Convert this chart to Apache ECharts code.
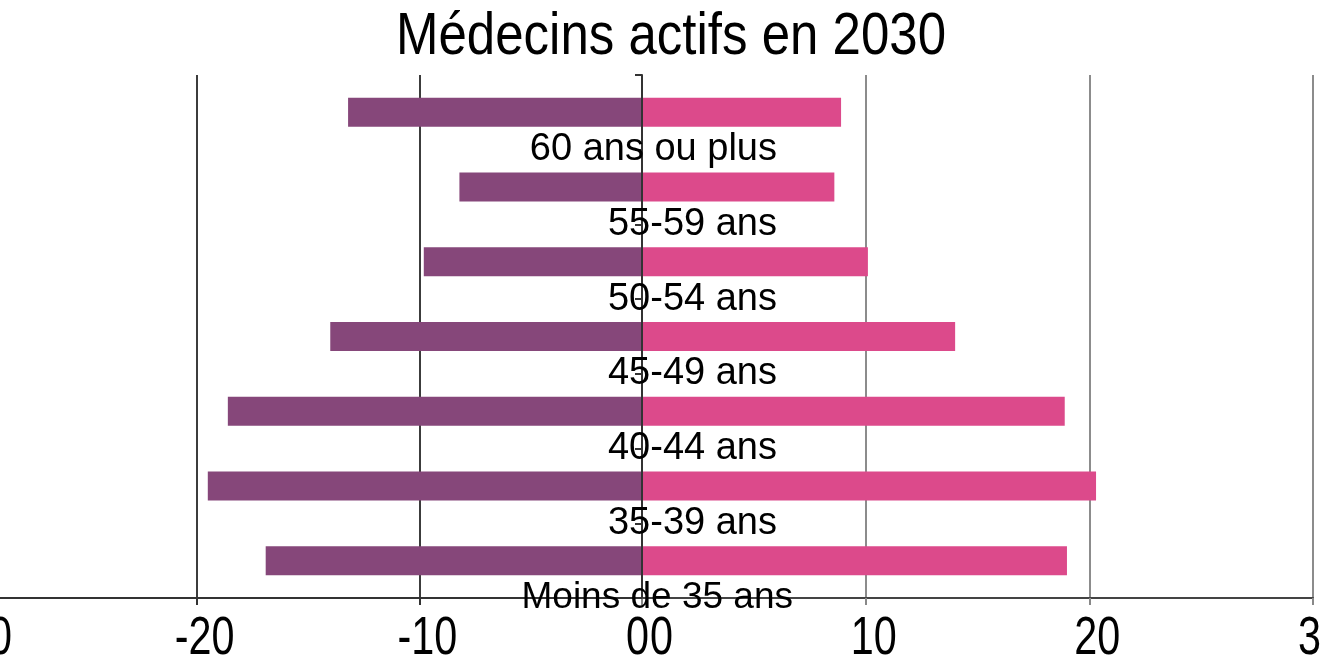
<!DOCTYPE html>
<html>
<head>
<meta charset="utf-8">
<title>Médecins actifs en 2030</title>
<script src="https://cdn.jsdelivr.net/npm/echarts@6/dist/echarts.min.js"></script>
<style>
    html, body { margin: 0; padding: 0; background: #fff; }
    #main { width: 1320px; height: 663px; }
</style>
</head>
<body>
<div id="main"></div>
<script>
// tranches d'age, du bas vers le haut
const ageGroups = ['Moins de 35 ans', '35-39 ans', '40-44 ans', '45-49 ans', '50-54 ans', '55-59 ans', '60 ans ou plus'];
// partie gauche (valeurs negatives)
const leftValues = [-16.9, -19.5, -18.6, -14.0, -9.8, -8.2, -13.2];
// partie droite
const rightValues = [19.0, 20.3, 18.9, 14.0, 10.1, 8.6, 8.9];
// graduations des deux axes
const leftTicks = [-30, -20, -10, 0];
const rightTicks = [0, 10, 20, 30];
const chartTitle = 'Médecins actifs en 2030';

const font = '"Liberation Sans", Arial, sans-serif';

let dom = document.getElementById('main');
let myChart = echarts.init(dom);

let option = {
    backgroundColor: '#ffffff',
    animation: false,
    grid: [
        { left: -26, top: 75, width: 668, height: 523, outerBoundsMode: 'none', containLabel: false },
        { left: 642, top: 75, right: 7, height: 523, outerBoundsMode: 'none', containLabel: false }
    ],
    xAxis: [
        {
            gridIndex: 0,
            type: 'value',
            min: leftTicks[0],
            max: leftTicks[leftTicks.length - 1],
            interval: 10,
            axisLine: { show: true, lineStyle: { color: '#333', width: 2 } },
            axisTick: { show: true, length: 7, lineStyle: { color: '#333', width: 2 } },
            splitLine: { show: true, showMaxLine: false, lineStyle: { color: '#3c3c3c', width: 2 } },
            axisLabel: { show: false }
        },
        {
            gridIndex: 1,
            type: 'value',
            min: rightTicks[0],
            max: rightTicks[rightTicks.length - 1],
            interval: 10,
            axisLine: { show: true, lineStyle: { color: '#444', width: 2 } },
            axisTick: { show: true, length: 7, lineStyle: { color: '#888', width: 2 } },
            splitLine: { show: true, showMinLine: false, lineStyle: { color: '#8c8c8c', width: 2 } },
            axisLabel: { show: false }
        }
    ],
    yAxis: [
        {
            gridIndex: 0,
            type: 'category',
            data: ageGroups,
            show: false
        },
        {
            gridIndex: 1,
            type: 'category',
            data: ageGroups,
            position: 'left',
            z: 5,
            axisLine: { show: true, lineStyle: { color: '#333', width: 2 } },
            axisTick: { show: true, length: 7, lineStyle: { color: '#333', width: 2 } },
            axisLabel: {
                interval: 0,
                inside: true,
                margin: 151,
                align: 'right',
                verticalAlign: 'middle',
                padding: [75, 0, 0, 0],
                fontFamily: font,
                fontSize: 38,
                color: '#000',
                formatter: function (v) {
                    return v === ageGroups[0] ? '{b|' + v + '}' : '{a|' + v + '}';
                },
                rich: {
                    a: { fontFamily: font, fontSize: 38, color: '#000', padding: [0, 16, 0, 0] },
                    b: { fontFamily: font, fontSize: 37, color: '#000' }
                }
            }
        }
    ],
    series: [
        {
            type: 'bar',
            xAxisIndex: 0,
            yAxisIndex: 0,
            data: leftValues,
            barWidth: 29,
            itemStyle: { color: '#86477a' }
        },
        {
            type: 'bar',
            xAxisIndex: 1,
            yAxisIndex: 1,
            data: rightValues,
            barWidth: 29,
            itemStyle: { color: '#dc4a8b' }
        }
    ]
};

myChart.setOption(option);

// titre et graduations en texte condense (comme l'original), places avec l'echelle des axes
function condensedText(text, x, y, size, sx, align) {
    return {
        type: 'text',
        x: x,
        y: y,
        scaleX: sx,
        z: 10,
        style: {
            text: text,
            x: 0,
            y: 0,
            align: align,
            verticalAlign: 'middle',
            font: size + 'px ' + font,
            fill: '#000'
        }
    };
}

let graphics = [condensedText(chartTitle, 671, 37, 60, 0.85, 'center')];
const labelY = 639;
leftTicks.forEach(function (v, i) {
    let px = myChart.convertToPixel({ xAxisIndex: 0 }, v);
    let last = i === leftTicks.length - 1;
    graphics.push(condensedText(String(v), last ? px + 7 : px + 8, labelY, 53, 0.78, last ? 'right' : 'center'));
});
rightTicks.forEach(function (v, i) {
    let px = myChart.convertToPixel({ xAxisIndex: 1 }, v);
    let first = i === 0;
    graphics.push(condensedText(String(v), px + 8, labelY, 53, 0.78, first ? 'left' : 'center'));
});

myChart.setOption({ graphic: graphics });
</script>
</body>
</html>
